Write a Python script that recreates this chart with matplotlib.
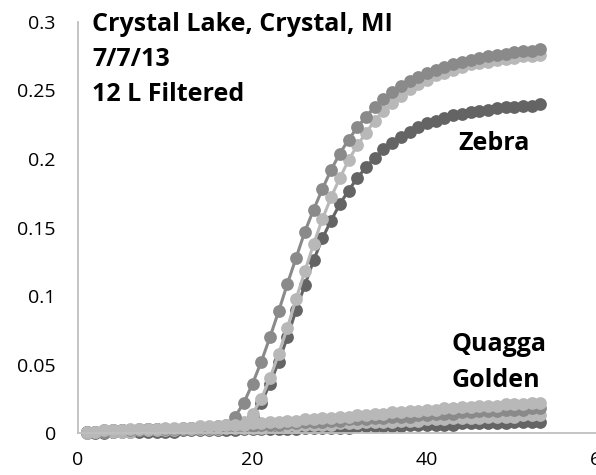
import numpy as np
import matplotlib
matplotlib.use("Agg")
import matplotlib.pyplot as plt

plt.rcParams['font.family'] = ['Open Sans', 'DejaVu Sans']

# cycle numbers
cycles = np.arange(1, 54)

# amplifying curves (fluorescence)
sample_a = [0.001, 0.001, 0.002, 0.002, 0.002, 0.002, 0.003, 0.003, 0.003, 0.003,
            0.003, 0.004, 0.004, 0.004, 0.004, 0.005, 0.006,
            0.012, 0.022, 0.036, 0.052, 0.070, 0.089, 0.109, 0.128, 0.147, 0.163,
            0.178, 0.192, 0.204, 0.214, 0.223, 0.231, 0.238, 0.244, 0.249, 0.253,
            0.257, 0.260, 0.263, 0.265, 0.267, 0.269, 0.271, 0.272, 0.274, 0.275,
            0.276, 0.277, 0.278, 0.279, 0.279, 0.280]
sample_b = [0.001, 0.001, 0.001, 0.002, 0.002, 0.002, 0.002, 0.003, 0.003, 0.003,
            0.003, 0.003, 0.004, 0.004, 0.004, 0.004, 0.005, 0.005,
            0.008, 0.014, 0.025, 0.040, 0.058, 0.077, 0.098, 0.118, 0.138, 0.156,
            0.172, 0.186, 0.199, 0.210, 0.219, 0.228, 0.235, 0.241, 0.246, 0.251,
            0.255, 0.258, 0.261, 0.263, 0.265, 0.267, 0.269, 0.270, 0.271, 0.272,
            0.273, 0.274, 0.275, 0.275, 0.276]
zebra = [0.001, 0.001, 0.001, 0.001, 0.002, 0.002, 0.002, 0.002, 0.002, 0.003,
         0.003, 0.003, 0.003, 0.003, 0.003, 0.004, 0.004, 0.004,
         0.005, 0.012, 0.022, 0.036, 0.052, 0.070, 0.090, 0.108, 0.126, 0.142,
         0.155, 0.167, 0.177, 0.186, 0.194, 0.201, 0.207, 0.212, 0.216, 0.220,
         0.223, 0.226, 0.228, 0.230, 0.232, 0.233, 0.234, 0.235, 0.236, 0.237,
         0.238, 0.238, 0.239, 0.239, 0.240]

# flat curves (Quagga / Golden)
low_1 = [0.001, 0.001, 0.002, 0.002, 0.002, 0.003, 0.003, 0.003, 0.003, 0.004,
         0.004, 0.004, 0.004, 0.005, 0.005, 0.005, 0.006, 0.006, 0.006, 0.007,
         0.007, 0.008, 0.008, 0.009, 0.009, 0.010, 0.010, 0.011, 0.011, 0.012,
         0.012, 0.013, 0.013, 0.014, 0.014, 0.015, 0.015, 0.016, 0.016, 0.017,
         0.017, 0.018, 0.018, 0.019, 0.019, 0.020, 0.020, 0.020, 0.021, 0.021,
         0.021, 0.022, 0.022]
low_2 = [0.001, 0.001, 0.001, 0.002, 0.002, 0.002, 0.002, 0.003, 0.003, 0.003,
         0.003, 0.003, 0.004, 0.004, 0.004, 0.004, 0.005, 0.005, 0.005, 0.005,
         0.006, 0.006, 0.006, 0.007, 0.007, 0.008, 0.008, 0.008, 0.009, 0.009,
         0.010, 0.010, 0.010, 0.011, 0.011, 0.012, 0.012, 0.012, 0.013, 0.013,
         0.014, 0.014, 0.014, 0.015, 0.015, 0.016, 0.016, 0.016, 0.017, 0.017,
         0.017, 0.018, 0.018]
low_3 = [0.000, 0.001, 0.001, 0.001, 0.001, 0.001, 0.002, 0.002, 0.002, 0.002,
         0.002, 0.003, 0.003, 0.003, 0.003, 0.003, 0.004, 0.004, 0.004, 0.004,
         0.004, 0.005, 0.005, 0.005, 0.005, 0.006, 0.006, 0.006, 0.006, 0.007,
         0.007, 0.007, 0.008, 0.008, 0.008, 0.008, 0.009, 0.009, 0.009, 0.010,
         0.010, 0.010, 0.011, 0.011, 0.011, 0.011, 0.012, 0.012, 0.012, 0.012,
         0.013, 0.013, 0.013]
low_4 = [0.000, 0.000, 0.000, 0.001, 0.001, 0.001, 0.001, 0.001, 0.001, 0.001,
         0.001, 0.002, 0.002, 0.002, 0.002, 0.002, 0.002, 0.002, 0.003, 0.003,
         0.003, 0.003, 0.003, 0.003, 0.003, 0.004, 0.004, 0.004, 0.004, 0.004,
         0.004, 0.005, 0.005, 0.005, 0.005, 0.005, 0.005, 0.006, 0.006, 0.006,
         0.006, 0.006, 0.006, 0.007, 0.007, 0.007, 0.007, 0.007, 0.007, 0.008,
         0.008, 0.008, 0.008]

x_ticks = [0, 20, 40, 60]
y_ticks = [0, 0.05, 0.1, 0.15, 0.2, 0.25, 0.3]
y_labels = ['0', '0.05', '0.1', '0.15', '0.2', '0.25', '0.3']

dark = '#646464'
mid = '#8a8a8a'
light = '#b8b8b8'

fig = plt.figure(figsize=(5.96, 4.75), dpi=100)
ax = fig.add_axes([0.1309, 0.0884, 0.8784, 0.8653])

style = dict(marker='o', markersize=9.2, linewidth=2.2, markeredgewidth=0)
series = [(zebra, dark), (sample_b, light), (sample_a, mid),
          (low_4, dark), (low_3, light), (low_2, mid), (low_1, light)]
for vals, c in series:
    ax.plot(cycles, vals, color=c, **style, clip_on=False)

ax.set_xlim(0, 60)
ax.set_ylim(0, 0.3)
ax.set_xticks(x_ticks)
ax.set_xticklabels([str(t) for t in x_ticks])
ax.set_yticks(y_ticks)
ax.set_yticklabels(y_labels)
ax.tick_params(length=0, labelsize=14)
ax.tick_params(axis='y', pad=16)
ax.tick_params(axis='x', pad=13)

for s in ['top', 'right']:
    ax.spines[s].set_visible(False)
ax.spines['left'].set_color('#bfbfbf')
ax.spines['bottom'].set_color('#bfbfbf')
ax.spines['left'].set_linewidth(1.3)
ax.spines['bottom'].set_linewidth(1.3)

bold = dict(fontsize=18, fontweight='bold', color='black')
ax.text(1.6, 0.2985, 'Crystal Lake, Crystal, MI', va='center', ha='left', **bold)
ax.text(1.6, 0.2725, '7/7/13', va='center', ha='left', **bold)
ax.text(1.6, 0.247, '12 L Filtered', va='center', ha='left', **bold)
ax.text(43.6, 0.2115, 'Zebra', va='center', ha='left', **bold)
ax.text(42.8, 0.0645, 'Quagga', va='center', ha='left', **bold)
ax.text(42.8, 0.0385, 'Golden', va='center', ha='left', **bold)

fig.savefig('out.png', dpi=100)
